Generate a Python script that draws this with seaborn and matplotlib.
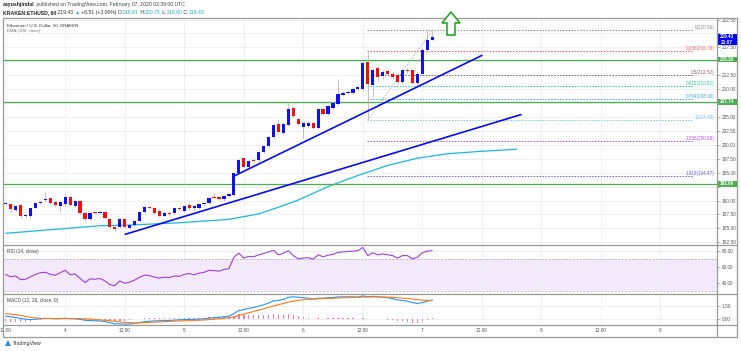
import matplotlib
matplotlib.use("Agg")
import matplotlib.pyplot as plt
from matplotlib.patches import Rectangle, Polygon
import numpy as np
import pandas as pd
import seaborn as sns

# ---- hourly candles, KRAKEN:ETHUSD, from Feb 3 12:00 to Feb 7 02:00
opens = [189.45, 189.36, 188.29, 189.24, 187.2, 187.27, 188.7, 189.5, 190.1, 190.38,
         189.78, 189.06, 189.3, 190.67, 189.06, 189.85, 187.81, 186.62, 187.9, 187.7,
         188.0, 186.68, 185.2, 185.2, 186.68, 185.1, 185.6, 186.37, 187.98, 188.9,
         188.7, 188.17, 187.27, 187.8, 187.7, 188.6, 188.1, 189.2, 188.6, 188.6,
         189.3, 189.5, 190.7, 190.6, 190.25, 190.9, 190.98, 194.97, 197.55, 196.04,
         197.3, 197.25, 198.73, 199.75, 201.42, 203.82, 202.13, 203.51, 206.61, 204.59,
         203.2, 203.3, 203.9, 203.1, 206.38, 205.6, 206.56, 207.4, 209.0, 209.3,
         209.3, 210.0, 210.09, 214.85, 210.68, 213.85, 212.3, 213.2, 212.8, 212.47,
         211.27, 213.4, 213.37, 211.16, 212.77, 217.07, 218.81]
highs = [189.8, 189.5, 189.2, 189.4, 187.6, 188.7, 189.6, 189.9, 191.5, 190.5,
         189.9, 189.9, 191.15, 190.8, 190.0, 190.0, 188.0, 188.0, 188.1, 188.2,
         188.2, 186.8, 185.4, 186.9, 186.8, 185.8, 186.5, 188.0, 189.1, 189.1,
         188.9, 188.4, 187.9, 188.0, 188.8, 188.8, 189.2, 189.6, 189.4, 189.4,
         189.8, 190.6, 191.3, 190.9, 191.0, 191.3, 195.0, 197.5, 197.8, 197.3,
         197.6, 198.9, 199.9, 201.6, 203.7, 204.4, 204.0, 207.7, 206.9, 204.9,
         204.1, 204.2, 204.1, 206.6, 206.7, 207.2, 207.8, 211.9, 209.6, 209.8,
         210.3, 210.5, 215.0, 216.6, 213.8, 214.3, 213.4, 213.6, 213.2, 212.9,
         213.7, 213.8, 213.6, 213.0, 217.3, 220.56, 220.75]
lows = [189.2, 187.9, 188.0, 186.9, 186.9, 186.9, 188.5, 189.3, 189.8, 189.3,
        188.9, 188.0, 189.1, 189.0, 188.9, 187.6, 186.4, 186.5, 187.6, 187.5,
        186.6, 185.1, 184.6, 185.0, 185.0, 184.9, 185.4, 186.2, 187.8, 188.5,
        187.5, 187.1, 187.1, 187.3, 187.5, 188.3, 187.9, 188.3, 188.3, 188.4,
        189.1, 189.3, 190.3, 190.1, 190.0, 190.7, 190.8, 194.7, 195.8, 195.9,
        196.9, 197.0, 198.5, 199.5, 201.2, 202.1, 201.9, 203.3, 204.9, 203.6,
        201.3, 203.1, 202.9, 202.9, 205.3, 205.4, 206.3, 207.2, 208.8, 209.1,
        209.1, 209.8, 209.9, 204.48, 208.6, 211.4, 211.8, 212.4, 211.9, 210.9,
        211.0, 212.9, 210.9, 210.8, 212.5, 216.8, 218.80]
closes = [189.6, 188.41, 189.06, 187.21, 187.45, 188.6, 189.49, 189.78, 190.25, 189.49,
          189.18, 189.78, 190.67, 189.18, 189.85, 187.81, 186.62, 187.81, 187.75, 188.0,
          186.8, 185.3, 184.9, 186.68, 185.2, 185.6, 186.37, 187.88, 188.88, 188.7,
          187.7, 187.27, 187.7, 187.5, 188.6, 188.45, 189.0, 188.6, 189.1, 189.3,
          189.6, 190.4, 190.5, 190.3, 190.85, 191.1, 194.86, 197.25, 196.04, 197.1,
          197.1, 198.73, 199.75, 201.42, 203.51, 202.31, 203.82, 206.51, 205.13, 203.82,
          203.9, 204.0, 203.1, 206.38, 205.5, 206.97, 207.51, 209.19, 209.37, 209.5,
          210.09, 210.3, 214.67, 210.98, 213.49, 212.17, 213.06, 212.8, 212.2, 211.27,
          213.37, 213.3, 211.16, 212.77, 216.95, 218.74, 219.43]

# EMA (100, close) as drawn on the chart, read at some bars
ema_idx = [0, 19, 25, 35, 45, 51, 55, 59, 65, 71, 77, 83, 89, 96, 103]
ema_vals = [184.12, 185.48, 185.6, 186.01, 186.62, 187.6, 188.8, 190.1, 192.5,
            194.5, 196.3, 197.6, 198.4, 198.85, 199.2]

# RSI (14, close)
rsi_vals = [51, 48, 49, 44.5, 45, 48, 51, 53, 53.5, 51,
            50, 53, 56, 50.5, 51.5, 46, 41, 45.5, 45, 46,
            43, 38.5, 37, 43, 40, 41.5, 44, 47.5, 50, 49.5,
            47.5, 46.5, 47.5, 47, 49, 48.5, 51, 52, 50.5, 52.5,
            53.5, 56, 55.5, 55, 57, 58, 72, 77, 71, 73,
            72.5, 75, 76.5, 78.5, 80.5, 75, 77, 80, 74, 70,
            71, 71.5, 69.5, 75, 72.5, 74.5, 75.5, 78, 78.5, 79,
            79.5, 80, 84, 74, 77.5, 75, 76, 75, 74, 71,
            74, 74, 70, 72, 77.5, 79.5, 80]

# MACD (12, 26, close, 9)
macd_vals = [0.32, 0.25, 0.18, 0.05, -0.02, -0.06, -0.03, 0.02, 0.06, 0.05,
             0.02, 0.03, 0.08, 0.03, 0.02, -0.05, -0.15, -0.18, -0.2, -0.22,
             -0.3, -0.42, -0.55, -0.55, -0.59, -0.56, -0.5, -0.4, -0.3, -0.25,
             -0.22, -0.2, -0.18, -0.17, -0.13, -0.1, -0.06, -0.05, -0.05, -0.02,
             0.02, 0.1, 0.15, 0.2, 0.25, 0.3, 0.6, 0.95, 1.05, 1.2,
             1.3, 1.45, 1.6, 1.8, 2.05, 2.1, 2.2, 2.45, 2.5, 2.45,
             2.4, 2.35, 2.25, 2.35, 2.35, 2.4, 2.42, 2.5, 2.5, 2.5,
             2.5, 2.48, 2.6, 2.5, 2.55, 2.5, 2.45, 2.4, 2.3, 2.15,
             2.1, 2.0, 1.85, 1.75, 1.85, 2.0, 2.14]
signal_vals = [0.6, 0.55, 0.48, 0.4, 0.3, 0.2, 0.12, 0.08, 0.06, 0.06,
               0.05, 0.05, 0.05, 0.05, 0.05, 0.04, 0.02, 0.0, -0.05, -0.1,
               -0.15, -0.2, -0.27, -0.33, -0.38, -0.42, -0.45, -0.44, -0.42, -0.39,
               -0.36, -0.33, -0.3, -0.27, -0.25, -0.22, -0.2, -0.19, -0.17, -0.14,
               -0.11, -0.07, -0.03, 0.02, 0.08, 0.14, 0.25, 0.4, 0.55, 0.7,
               0.85, 1.0, 1.15, 1.3, 1.48, 1.62, 1.75, 1.9, 2.02, 2.1,
               2.17, 2.22, 2.24, 2.27, 2.3, 2.32, 2.34, 2.37, 2.4, 2.42,
               2.43, 2.44, 2.47, 2.48, 2.5, 2.5, 2.48, 2.47, 2.45, 2.4,
               2.35, 2.3, 2.25, 2.18, 2.12, 2.1, 2.08]
hist_vals = [-0.28, -0.3, -0.3, -0.35, -0.32, -0.26, -0.15, -0.06, 0.0, -0.01,
             -0.03, -0.02, 0.03, -0.02, -0.03, -0.09, -0.17, -0.18, -0.15, -0.12,
             -0.15, -0.22, -0.28, -0.22, -0.21, -0.14, -0.05, 0.04, 0.12, 0.14,
             0.14, 0.13, 0.12, 0.1, 0.12, 0.12, 0.14, 0.14, 0.12, 0.12,
             0.13, 0.17, 0.18, 0.18, 0.17, 0.16, 0.35, 0.55, 0.5, 0.5,
             0.45, 0.45, 0.45, 0.5, 0.57, 0.48, 0.45, 0.55, 0.48, 0.35,
             0.23, 0.13, 0.01, 0.08, 0.05, 0.08, 0.08, 0.13, 0.1, 0.08,
             0.07, 0.04, 0.13, 0.02, 0.05, 0.0, -0.03, -0.07, -0.15, -0.25,
             -0.25, -0.3, -0.4, -0.43, -0.27, -0.1, 0.06]

# drawn objects
trend_upper_x = [46.0, 96.0]
trend_upper_y = [194.38, 216.05]
trend_lower_x = [24.1, 103.9]
trend_lower_y = [183.94, 205.43]
green_levels = [215.30, 207.74, 192.99]
fib_prices = [220.56, 216.76, 212.52, 210.62, 208.30, 204.48, 200.68, 194.47]
fib_labels = ["0(220.56)", "0.236(216.76)", "0.5(212.52)", "0.618(210.62)",
              "0.764(208.30)", "1(204.48)", "1.236(200.68)", "1.618(194.47)"]
fib_colors = ["#8a8a8a", "#e35d5d", "#8d6262", "#2cc7a8", "#3fa3e8",
              "#7cc6ea", "#b24ee6", "#5c62d6"]
fib_span = [72.8, 138.6]
fib_diag_x = [73, 86]
fib_diag_y = [204.48, 220.56]

price_ticks = [182.5, 185.0, 187.5, 190.0, 192.5, 195.0, 197.5, 200.0, 202.5,
               205.0, 207.5, 210.0, 212.5, 215.0, 217.5, 220.0, 222.5]
# these tick labels sit under the price boxes on the reference
hidden_ticks = [192.5, 207.5, 215.0, 220.0]
rsi_ticks = [40, 60, 80]
macd_ticks = [0.0, 1.5]
time_ticks = [0, 12, 24, 36, 48, 60, 72, 84, 96, 108, 120, 132]
time_labels = ["12:00", "4", "12:00", "5", "12:00", "6", "12:00", "7",
               "12:00", "8", "12:00", "9"]

BLUE = "#1010f0"
RED = "#f01010"
CYAN = "#1cb8d8"
GRID = "#eef0f3"
FRAME = "#9a9a9a"
TXT = "#555555"

W, H = 741, 351
sns.set_theme(style="white")
plt.rcParams["font.family"] = ["Liberation Sans", "DejaVu Sans"]

fig = plt.figure(figsize=(W / 100, H / 100), dpi=100)
fig.patch.set_facecolor("white")


def box(x0, y0, x1, y1):
    return [x0 / W, 1 - y1 / H, (x1 - x0) / W, (y1 - y0) / H]


ax = fig.add_axes(box(3, 18, 717, 245))
ax_rsi = fig.add_axes(box(3, 245, 717, 294), sharex=ax)
ax_macd = fig.add_axes(box(3, 294, 717, 325), sharex=ax)

df = pd.DataFrame({"o": opens, "h": highs, "l": lows, "c": closes})
df["i"] = np.arange(len(df))
up = df["c"] >= df["o"]

# candles
ax.vlines(df["i"], df["l"], df["h"], color="#b8b8b8", lw=0.6, zorder=3)
ax.bar(df["i"], (df["c"] - df["o"]).abs().clip(lower=0.12),
       bottom=df[["o", "c"]].min(axis=1), width=0.66,
       color=np.where(up, BLUE, RED), linewidth=0, zorder=4)

sns.lineplot(x=ema_idx, y=ema_vals, ax=ax, color=CYAN, lw=0.9, zorder=2)

for lvl in green_levels:
    ax.axhline(lvl, color="#4caf50", lw=0.9, zorder=2)

for p, lab, col in zip(fib_prices, fib_labels, fib_colors):
    ax.hlines(p, fib_span[0], fib_span[1], colors=col, lw=0.7,
              linestyles=(0, (1.5, 1.5)), zorder=2)
    ax.text(143.0, p, lab, color=col, fontsize=3.3, ha="right", va="bottom")
ax.plot(fib_diag_x, fib_diag_y, color="#b0b0b0", lw=0.7, ls=(0, (1.5, 1.5)), zorder=2)

ax.plot(trend_upper_x, trend_upper_y, color="#0a0af5", lw=1.2, zorder=5)
ax.plot(trend_lower_x, trend_lower_y, color="#0a0af5", lw=1.2, zorder=5)

# RSI pane
ax_rsi.axhspan(30, 70, color="#f4e8fc", lw=0, zorder=0)
for lvl in (30, 70):
    ax_rsi.axhline(lvl, color="#b0aab8", lw=0.5, ls=(0, (3, 2)), zorder=1)
sns.lineplot(x=df["i"], y=rsi_vals, ax=ax_rsi, color="#a040d0", lw=0.8, zorder=3)

# MACD pane
ax_macd.bar(df["i"], hist_vals, width=0.3, color="#f27aaa", linewidth=0, zorder=2)
sns.lineplot(x=df["i"], y=macd_vals, ax=ax_macd, color="#2196f3", lw=0.8, zorder=3)
sns.lineplot(x=df["i"], y=signal_vals, ax=ax_macd, color="#ff7a1a", lw=0.8, zorder=3)

for a, yl, ticks in [(ax, (182.02, 222.77), price_ticks),
                     (ax_rsi, (26.9, 87.0), rsi_ticks),
                     (ax_macd, (-0.68, 2.82), macd_ticks)]:
    a.set_ylim(*yl)
    a.set_xlim(-0.544, 143.41)
    a.set_xlabel("")
    a.set_ylabel("")
    a.yaxis.tick_right()
    a.set_yticks(ticks)
    a.set_yticklabels(["" if t in hidden_ticks and a is ax else f"{t:.2f}"
                       for t in ticks])
    a.tick_params(axis="y", length=2, width=0.5, color=FRAME, pad=1.2,
                  labelsize=3.4, labelcolor=TXT, right=True)
    a.set_xticks(time_ticks)
    a.grid(True, color=GRID, lw=0.7)
    a.set_axisbelow(True)
    for s in a.spines.values():
        s.set_visible(False)
    a.set_facecolor("none")

ax.tick_params(axis="x", labelbottom=False, length=0)
ax_rsi.tick_params(axis="x", labelbottom=False, length=0)
ax_macd.set_xticklabels(time_labels)
ax_macd.tick_params(axis="x", length=0, pad=2.2, labelsize=3.4, labelcolor=TXT)

ax.text(0.005, 0.968, "Ethereum / U.S. Dollar, 60, KRAKEN", transform=ax.transAxes,
        fontsize=3.2, color="#333333", va="center")
ax.text(0.005, 0.942, "EMA (100, close)", transform=ax.transAxes,
        fontsize=3.2, color="#777777", va="center")
ax_rsi.text(0.005, 0.86, "RSI (14, close)", transform=ax_rsi.transAxes,
            fontsize=3.4, color="#444444", va="center")
ax_macd.text(0.005, 0.8, "MACD (12, 26, close, 9)", transform=ax_macd.transAxes,
             fontsize=3.4, color="#444444", va="center")

# overlay in pixel units: frame, price boxes, header, arrow, logo
ov = fig.add_axes([0, 0, 1, 1])
ov.set_xlim(0, W)
ov.set_ylim(H, 0)
ov.axis("off")

ov.add_patch(Rectangle((3, 18), 734, 319, fill=False, ec=FRAME, lw=0.9))
ov.plot([717, 717], [18, 337], color=FRAME, lw=0.9)
for yy in (245, 294, 325):
    ov.plot([3, 737], [yy, yy], color=FRAME, lw=0.9)


def py(p):
    disp = ax.transData.transform((0, p))
    return ov.transData.inverted().transform(disp)[1]


for lvl in green_levels:
    yy = py(lvl)
    ov.add_patch(Rectangle((717.5, yy - 2.8), 19.5, 5.6, color="#4caf50", lw=0))
    ov.text(727, yy, f"{lvl:.2f}", color="white", fontsize=3.3, ha="center",
            va="center", fontweight="bold")
yy = py(closes[-1])
ov.add_patch(Rectangle((717.5, yy - 2.9), 19.5, 5.8, color="#0000ff", lw=0))
ov.text(727, yy, f"{closes[-1]:.2f}", color="white", fontsize=3.3, ha="center",
        va="center", fontweight="bold")
ov.add_patch(Rectangle((717.5, yy + 3.0), 19.5, 5.4, color="#0000ff", lw=0))
ov.text(727, yy + 5.7, "21:07", color="white", fontsize=3.3, ha="center",
        va="center", fontweight="bold")

ov.add_patch(Polygon([(451, 12), (442, 23), (447, 23), (447, 35), (455, 35),
                      (455, 23), (460, 23)], closed=True, fc="white",
                     ec="#19a319", lw=1.1))


def chain(parts, x, y, size):
    t = ov.text(x, y, parts[0][0], color=parts[0][1], fontsize=size,
                fontweight=parts[0][2], va="center", ha="left")
    for s, c, w in parts[1:]:
        t = ov.annotate(s, xy=(1, 0), xycoords=t, color=c, fontsize=size,
                        fontweight=w, va="bottom", ha="left")
    return t


chain([("aayushjindal", "#222222", "bold"),
       (" published on TradingView.com, February 07, 2020 02:39:00 UTC", "#444444", "normal")],
      3, 4.5, 3.7)
TEAL = "#26b0b8"
chain([("KRAKEN:ETHUSD, 60", "#222222", "bold"),
       (" 219.43 ", "#333333", "normal"),
       ("\u25b2", TEAL, "normal"),
       (" +6.51 (+3.06%) O:", "#333333", "normal"),
       ("218.81", TEAL, "normal"), (" H:", "#333333", "normal"),
       ("220.75", TEAL, "normal"), (" L:", "#333333", "normal"),
       ("218.80", TEAL, "normal"), (" C:", "#333333", "normal"),
       ("219.43", TEAL, "normal")], 3, 12.5, 3.7)

ov.add_patch(Polygon([(5, 346), (8, 340), (11, 346)], closed=True, fc="#2a8de0", lw=0))
ov.text(12.5, 343.5, "TradingView", fontsize=3.7, color="#333333", va="center")

fig.savefig("out.png", dpi=100, facecolor="white")
